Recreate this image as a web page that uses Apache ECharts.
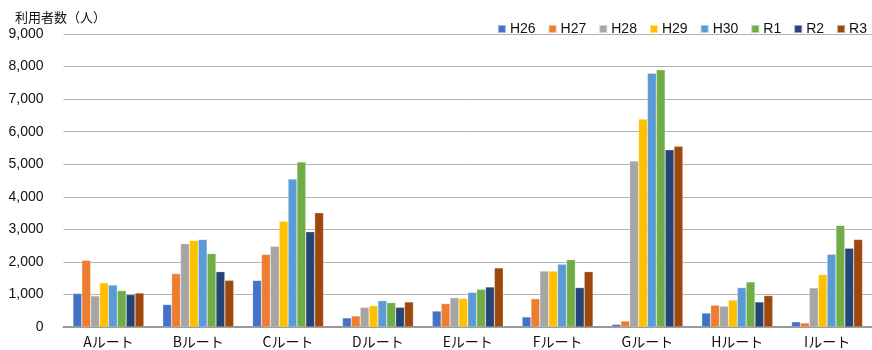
<!DOCTYPE html>
<html>
<head>
<meta charset="utf-8">
<script src="https://cdn.jsdelivr.net/npm/echarts@6/dist/echarts.min.js"></script>
<style>
  html, body { margin: 0; padding: 0; background: #fff; }
  #chart { width: 872px; height: 350px; }
</style>
</head>
<body>
<div id="chart"></div>
<script>
// Routes and yearly user counts (persons)
const routes = ['Aルート', 'Bルート', 'Cルート', 'Dルート', 'Eルート', 'Fルート', 'Gルート', 'Hルート', 'Iルート'];
const years = ['H26', 'H27', 'H28', 'H29', 'H30', 'R1', 'R2', 'R3'];

const H26 = [1030, 690, 1430, 280, 490, 310, 80, 430, 160];
const H27 = [2050, 1640, 2230, 340, 720, 870, 185, 670, 125];
const H28 = [955, 2560, 2480, 605, 900, 1720, 5100, 640, 1200];
const H29 = [1355, 2655, 3250, 655, 880, 1720, 6390, 830, 1610];
const H30 = [1290, 2690, 4545, 810, 1065, 1930, 7795, 1210, 2235];
const R1 = [1120, 2255, 5070, 750, 1160, 2070, 7900, 1385, 3120];
const R2 = [995, 1700, 2925, 605, 1230, 1210, 5445, 770, 2420];
const R3 = [1045, 1435, 3510, 770, 1815, 1700, 5550, 965, 2690];

const yTicks = { min: 0, max: 9000, interval: 1000 };
const colors = ['#4472C4', '#ED7D31', '#A5A5A5', '#FFC000', '#5B9BD5', '#70AD47', '#264478', '#9E480E'];
const seriesData = [H26, H27, H28, H29, H30, R1, R2, R3];

const chart = echarts.init(document.getElementById('chart'), null, { renderer: 'canvas' });

chart.setOption({
  animation: false,
  color: colors,
  textStyle: { fontFamily: 'Arial, "Liberation Sans", sans-serif' },
  title: {
    text: '利用者数（人）',
    left: 10,
    top: 6,
    textStyle: { fontFamily: '"Noto Sans CJK JP", sans-serif', fontSize: 13, fontWeight: 'normal', color: '#111' }
  },
  legend: {
    data: years,
    right: 0,
    top: 17,
    itemWidth: 8,
    itemHeight: 8,
    itemGap: 12,
    icon: 'rect',
    textStyle: { fontSize: 14, color: '#111', padding: [0, 0, 0, -1] }
  },
  grid: { left: 63.5, right: -6, top: 34, bottom: 23, containLabel: false },
  xAxis: {
    type: 'category',
    data: routes,
    axisTick: { show: false },
    axisLine: { lineStyle: { color: '#999', width: 2 } },
    axisLabel: { fontSize: 14, color: '#111', margin: 8, fontFamily: '"Noto Sans CJK JP", Arial, sans-serif' }
  },
  yAxis: {
    type: 'value',
    min: yTicks.min,
    max: yTicks.max,
    interval: yTicks.interval,
    axisLine: { show: false },
    axisTick: { show: false },
    splitLine: { lineStyle: { color: '#b3b3b3', width: 1 } },
    axisLabel: {
      fontSize: 14,
      color: '#111',
      margin: 20,
      formatter: v => v.toLocaleString('en-US')
    }
  },
  series: years.map((name, i) => ({
    name,
    type: 'bar',
    data: seriesData[i],
    barGap: '0%',
    barCategoryGap: '21%',
    itemStyle: { borderColor: 'rgba(255,255,255,0.5)', borderWidth: 0.5 }
  }))
});
</script>
</body>
</html>
